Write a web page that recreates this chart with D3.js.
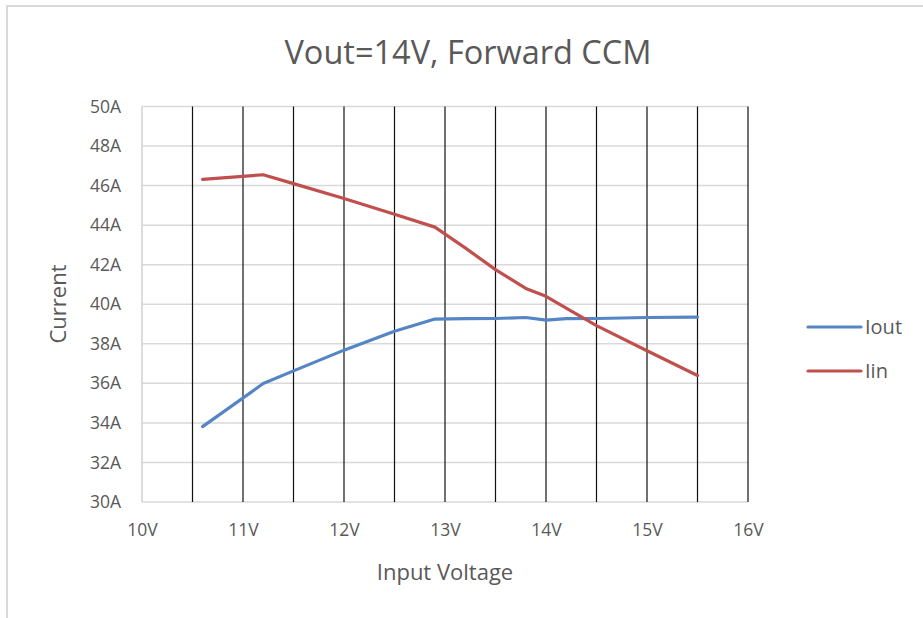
<!DOCTYPE html>
<html>
<head>
<meta charset="utf-8">
<script src="https://cdn.jsdelivr.net/npm/d3@7"></script>
<style>
  body { margin: 0; background: #fff; }
  text { font-family: "Open Sans", sans-serif; fill: #595959; }
</style>
</head>
<body>
<script>
// input voltage sample points, shared by both series
var volts = [10.6, 11.2, 11.5, 12.0, 12.5, 12.9, 13.2, 13.5, 13.8, 14.0, 14.2, 14.5, 15.0, 15.5];
var iout = [33.81, 35.99, 36.63, 37.68, 38.63, 39.25, 39.27, 39.28, 39.33, 39.2, 39.27, 39.28, 39.33, 39.35];
var iin = [46.31, 46.55, 46.1, 45.35, 44.55, 43.9, 42.85, 41.75, 40.8, 40.4, 39.8, 38.92, 37.65, 36.4];
var seriesNames = ['Iout', 'Iin'];
var xTicks = [10, 11, 12, 13, 14, 15, 16];
var yTicks = [30, 32, 34, 36, 38, 40, 42, 44, 46, 48, 50];
var dropLines = [10.5, 11, 11.5, 12, 12.5, 13, 13.5, 14, 14.5, 15, 15.5, 16];

var width = 923, height = 618;
var colors = ['#5585c5', '#c0504d'];

var svg = d3.select('body')
            .append('svg')
            .attr('width', width)
            .attr('height', height);

// chart frame (only left and top edges are in view)
svg.append('rect')
  .attr('x', 7)
  .attr('y', 6)
  .attr('width', 1000)
  .attr('height', 700)
  .attr('fill', 'none')
  .attr('stroke', '#d9d9d9')
  .attr('stroke-width', 2);

var xScale = d3.scaleLinear().domain([10, 16]).range([142, 748]);
var yScale = d3.scaleLinear().domain([30, 50]).range([502, 106.5]);

// horizontal gridlines
svg.append('g')
  .selectAll('line')
  .data(yTicks)
  .enter()
  .append('line')
  .attr('x1', xScale(10))
  .attr('x2', xScale(16))
  .attr('y1', (d) => yScale(d))
  .attr('y2', (d) => yScale(d))
  .attr('stroke', '#d9d9d9')
  .attr('stroke-width', 1.5);

// left axis line
svg.append('line')
  .attr('x1', xScale(10))
  .attr('x2', xScale(10))
  .attr('y1', yScale(30))
  .attr('y2', yScale(50))
  .attr('stroke', '#d0d0d0')
  .attr('stroke-width', 1.5);

// black vertical lines
svg.append('g')
  .selectAll('line')
  .data(dropLines)
  .enter()
  .append('line')
  .attr('x1', (d) => xScale(d))
  .attr('x2', (d) => xScale(d))
  .attr('y1', yScale(30))
  .attr('y2', yScale(50))
  .attr('stroke', '#111')
  .attr('stroke-width', 1.2);

// axes (text only)
var yAxis = d3.axisLeft(yScale).tickValues(yTicks).tickSize(0).tickPadding(21)
              .tickFormat((d) => d + 'A');
var gy = svg.append('g').attr('transform', 'translate(' + xScale(10) + ',0)').call(yAxis);
gy.select('.domain').remove();
gy.selectAll('text').attr('font-size', 17.5).attr('fill', '#595959')
  .attr('font-family', '"Open Sans", sans-serif');

var xAxis = d3.axisBottom(xScale).tickValues(xTicks).tickSize(0).tickPadding(22)
              .tickFormat((d) => d + 'V');
var gx = svg.append('g').attr('transform', 'translate(0,' + yScale(30) + ')').call(xAxis);
gx.select('.domain').remove();
gx.selectAll('text').attr('font-size', 17.5).attr('fill', '#595959')
  .attr('font-family', '"Open Sans", sans-serif');

// series lines
var line = d3.line()
  .x((d) => xScale(d[0]))
  .y((d) => yScale(d[1]));

[iout, iin].forEach(function(vals, i) {
  svg.append('path')
    .datum(volts.map((v, j) => [v, vals[j]]))
    .attr('d', line)
    .attr('fill', 'none')
    .attr('stroke', colors[i])
    .attr('stroke-width', 3.2)
    .attr('stroke-linejoin', 'round')
    .attr('stroke-linecap', 'round');
});

// legend
var legend = svg.selectAll('.legend')
  .data(seriesNames)
  .enter()
  .append('g')
  .attr('class', 'legend')
  .attr('transform', (d, i) => 'translate(808,' + (327 + i * 44) + ')');

legend.append('line')
  .attr('x1', 0)
  .attr('x2', 53)
  .attr('stroke', (d, i) => colors[i])
  .attr('stroke-width', 3.2)
  .attr('stroke-linecap', 'round');

legend.append('text')
  .attr('x', 57)
  .attr('y', 7)
  .attr('font-size', 20)
  .text((d) => d);

// titles
svg.append('text')
  .attr('x', 468)
  .attr('y', 64)
  .attr('text-anchor', 'middle')
  .attr('font-size', 32.5)
  .text('Vout=14V, Forward CCM');

svg.append('text')
  .attr('x', 445)
  .attr('y', 580)
  .attr('text-anchor', 'middle')
  .attr('font-size', 22)
  .text('Input Voltage');

svg.append('text')
  .attr('transform', 'translate(66,304) rotate(-90)')
  .attr('text-anchor', 'middle')
  .attr('font-size', 22)
  .text('Current');
</script>
</body>
</html>
